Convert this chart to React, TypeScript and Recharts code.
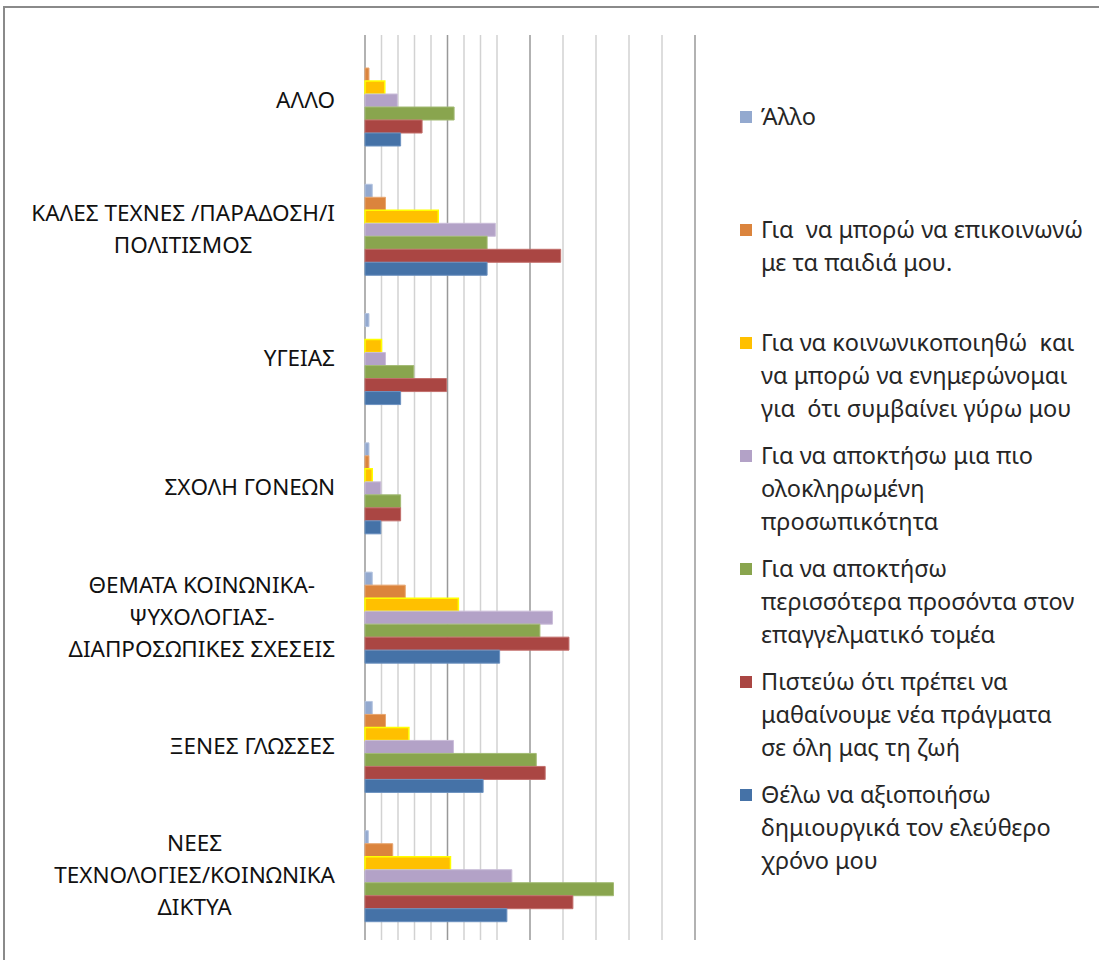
import { BarChart, Bar, XAxis, YAxis, CartesianGrid, Legend } from "recharts";

const categories = [
  "ΑΛΛΟ",
  "ΚΑΛΕΣ ΤΕΧΝΕΣ /ΠΑΡΑΔΟΣΗ/Ι\nΠΟΛΙΤΙΣΜΟΣ",
  "ΥΓΕΙΑΣ",
  "ΣΧΟΛΗ ΓΟΝΕΩΝ",
  "ΘΕΜΑΤΑ ΚΟΙΝΩΝΙΚΑ-\nΨΥΧΟΛΟΓΙΑΣ-\nΔΙΑΠΡΟΣΩΠΙΚΕΣ ΣΧΕΣΕΙΣ",
  "ΞΕΝΕΣ ΓΛΩΣΣΕΣ",
  "ΝΕΕΣ\nΤΕΧΝΟΛΟΓΙΕΣ/ΚΟΙΝΩΝΙΚΑ\nΔΙΚΤΥΑ",
];

const seriesNames = [
  "Άλλο",
  "Για  να μπορώ να επικοινωνώ\nμε τα παιδιά μου.",
  "Για να κοινωνικοποιηθώ  και\nνα μπορώ να ενημερώνομαι\nγια  ότι συμβαίνει γύρω μου",
  "Για να αποκτήσω μια πιο\nολοκληρωμένη\nπροσωπικότητα",
  "Για να αποκτήσω\nπερισσότερα προσόντα στον\nεπαγγελματικό τομέα",
  "Πιστεύω ότι πρέπει να\nμαθαίνουμε νέα πράγματα\nσε όλη μας τη ζωή",
  "Θέλω να αξιοποιήσω\nδημιουργικά τον ελεύθερο\nχρόνο μου",
];

const allo = [0, 0.44, 0.24, 0.24, 0.44, 0.44, 0.2];
const epikoinonia = [0.24, 1.24, 0, 0.24, 2.44, 1.24, 1.68];
const koinonikopoiisi = [1.2, 4.44, 1.0, 0.44, 5.66, 2.66, 5.18];
const prosopikotita = [1.96, 7.9, 1.24, 0.96, 11.36, 5.36, 8.9];
const prosonta = [5.4, 7.4, 2.96, 2.16, 10.6, 10.38, 15.06];
const diaviou = [3.46, 11.86, 4.94, 2.16, 12.36, 10.92, 12.6];
const eleftherosXronos = [2.16, 7.4, 2.16, 0.96, 8.16, 7.16, 8.6];

// minor gridline every 1, darker major line every 5
const gridTicks = [0, 1, 2, 3, 4, 5, 6, 7, 8, 9, 10, 11, 12, 13, 14, 15, 16, 17, 18, 19, 20];
const majorStep = 5;

const seriesValues = [allo, epikoinonia, koinonikopoiisi, prosopikotita, prosonta, diaviou, eleftherosXronos];
const colors = ["#93A9CF", "#DB843D", "#FFC000", "#B3A2C7", "#89A54E", "#AA4643", "#4572A7"];
const strokes = ["#b4c4e0", "#e8a66f", "#FFFF00", "#cabdd9", "#a3bb74", "#c26e6b", "#6d92c0"];

const data = categories.map((name, i) => {
  const row: Record<string, string | number> = { name };
  seriesValues.forEach((vals, s) => {
    row["s" + s] = vals[i];
  });
  return row;
});

const FONT = "'Noto Sans', sans-serif";
const LABEL_SIZE = 22.5;
const LEGEND_SIZE = 23.5;

let ctx: CanvasRenderingContext2D | null = null;
const measure = (t: string) => {
  if (!ctx) ctx = document.createElement("canvas").getContext("2d");
  if (!ctx) return t.length * LABEL_SIZE * 0.6;
  ctx.font = `${LABEL_SIZE}px 'Noto Sans'`;
  return ctx.measureText(t).width;
};

const CategoryTick = (props: any) => {
  const { x, y, payload } = props;
  const lines = String(payload.value).split("\n");
  const lh = 32;
  const top = y - ((lines.length - 1) * lh) / 2;
  if (lines.length === 1) {
    return (
      <text x={x} y={y} dy={LABEL_SIZE * 0.35} textAnchor="end" fontFamily={FONT} fontSize={LABEL_SIZE} fill="#111">
        {lines[0]}
      </text>
    );
  }
  const w = Math.max(...lines.map(measure));
  const cx = x - w / 2;
  return (
    <text textAnchor="middle" fontFamily={FONT} fontSize={LABEL_SIZE} fill="#111">
      {lines.map((l, i) => (
        <tspan key={i} x={cx} y={top + i * lh} dy={LABEL_SIZE * 0.35}>
          {l}
        </tspan>
      ))}
    </text>
  );
};

const GridLine = (p: any) => {
  const steps = gridTicks.length - 1;
  const pos = p.width ? Math.round(((p.x1 - p.x) / p.width) * steps) : p.index;
  const major = pos % majorStep === 0;
  return (
    <line
      key={p.key}
      x1={p.x1}
      y1={p.y1}
      x2={p.x2}
      y2={p.y2}
      stroke={major ? "#999999" : "#d2d2d2"}
      strokeWidth={1.5}
    />
  );
};

const LegendBox = (props: any) => {
  const items = props.payload || [];
  return (
    <div style={{ fontFamily: FONT, fontSize: LEGEND_SIZE, color: "#262626" }}>
      {items.map((it: any, i: number) => (
        <div key={i} style={{ height: 113, display: "flex", alignItems: "flex-start" }}>
          <div
            style={{
              width: 12,
              height: 12,
              marginTop: 10.5,
              marginRight: 9,
              background: it.color,
              flex: "none",
            }}
          />
          <div style={{ whiteSpace: "pre", lineHeight: "33px" }}>{it.value}</div>
        </div>
      ))}
    </div>
  );
};

export default function App() {
  return (
    <div style={{ position: "absolute", left: 0, top: 0, width: 1099, height: 960, overflow: "hidden", background: "#fff" }}>
      <div
        style={{
          position: "absolute",
          left: 3,
          top: 6,
          width: 1200,
          height: 1100,
          border: "2px solid #8a8a8a",
        }}
      />
      <div style={{ position: "absolute", left: 0, top: 0 }}>
        <BarChart
          width={1099}
          height={960}
          data={data}
          layout="vertical"
          margin={{ top: 35, right: 404, bottom: 20, left: 0 }}
          barCategoryGap={20}
          barGap={0}
        >
          <CartesianGrid horizontal={false} vertical={GridLine} />
          <XAxis type="number" domain={[0, 20]} ticks={gridTicks} hide />
          <YAxis
            type="category"
            dataKey="name"
            width={365}
            axisLine={false}
            tickLine={false}
            tickSize={0}
            tickMargin={30}
            interval={0}
            tick={<CategoryTick />}
          />
          {seriesNames.map((n, s) => (
            <Bar
              key={n}
              dataKey={"s" + s}
              name={n}
              fill={colors[s]}
              stroke={strokes[s]}
              strokeWidth={s === 2 ? 1.5 : 1}
              isAnimationActive={false}
            />
          ))}
          <Legend
            layout="horizontal"
            verticalAlign="middle"
            align="center"
            itemSorter="dataKey"
            content={<LegendBox />}
            wrapperStyle={{ position: "absolute", left: 740, top: 100, width: 359 }}
          />
        </BarChart>
      </div>
    </div>
  );
}
